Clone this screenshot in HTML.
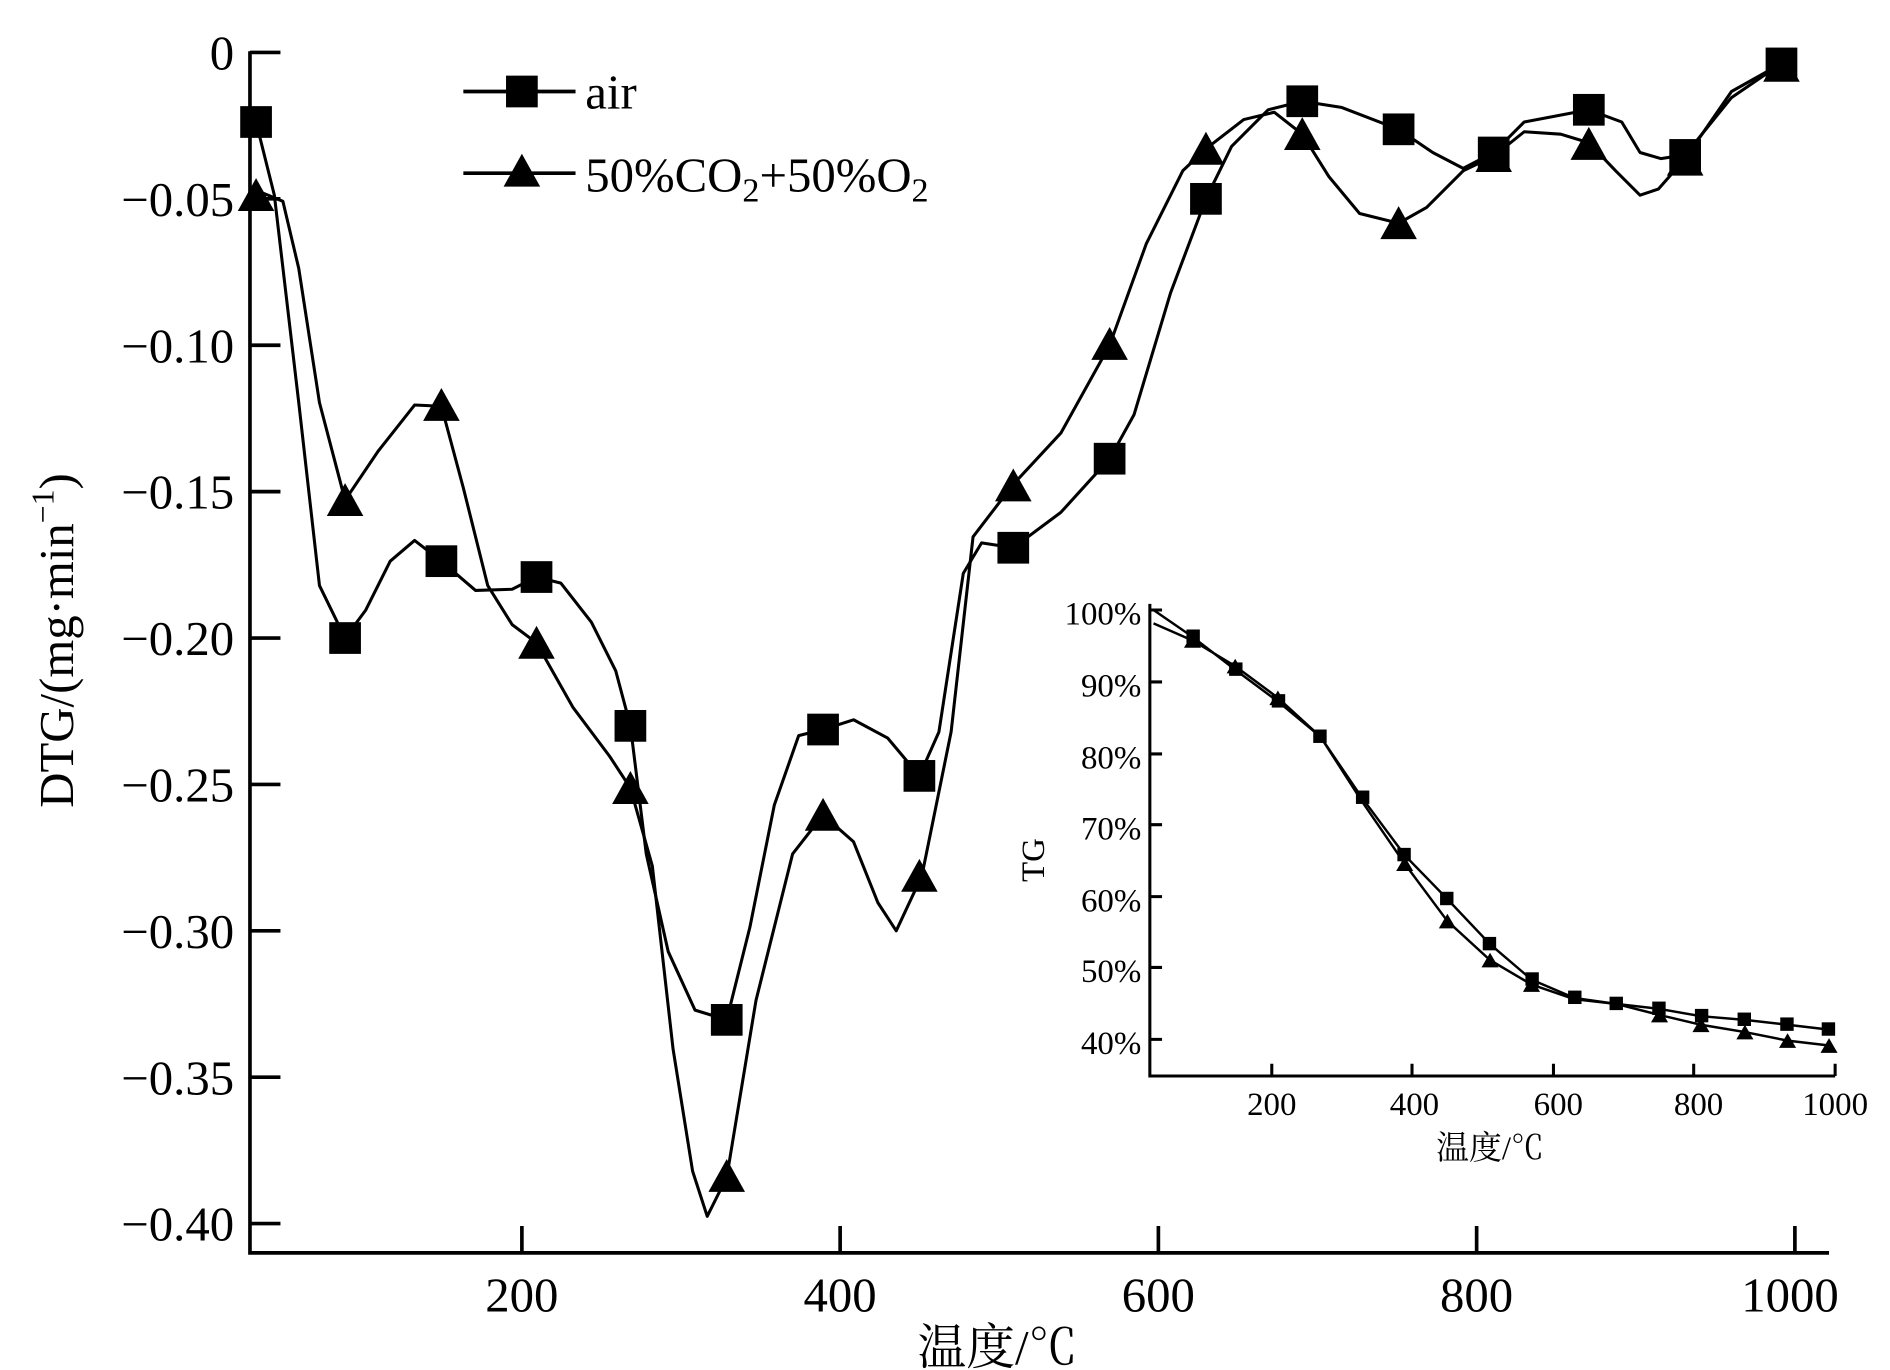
<!DOCTYPE html>
<html><head><meta charset="utf-8"><style>
html,body{margin:0;padding:0;background:#fff;}
svg{display:block;}
text{font-family:"Liberation Serif","Noto Serif CJK SC",serif;fill:#000;}
</style></head><body>
<svg width="1890" height="1370" viewBox="0 0 1550 1123" preserveAspectRatio="none" xmlns="http://www.w3.org/2000/svg">
<rect width="1550" height="1123" fill="#fff"/>
<g stroke="#000" stroke-width="3" fill="none">
<path d="M205 42 V1027 H1500"/>
<path d="M205 43h25M205 163h25M205 283h25M205 403h25M205 523h25M205 643h25M205 763h25M205 883h25M205 1003h25"/>
<path d="M428 1027v-22M689 1027v-22M950 1027v-22M1211 1027v-22M1472 1027v-22"/>
</g>
<g font-size="40" text-anchor="end">
<text x="192" y="57">0</text><text x="192" y="177">−0.05</text><text x="192" y="297">−0.10</text>
<text x="192" y="417">−0.15</text><text x="192" y="537">−0.20</text><text x="192" y="657">−0.25</text>
<text x="192" y="777">−0.30</text><text x="192" y="897">−0.35</text><text x="192" y="1017">−0.40</text>
</g>
<g font-size="40" text-anchor="middle">
<text x="428" y="1075">200</text><text x="689" y="1075">400</text><text x="950" y="1075">600</text><text x="1211" y="1075">800</text><text x="1468" y="1075">1000</text>
<text x="818" y="1118">温度/℃</text>
</g>
<text transform="translate(60 525) rotate(-90)" font-size="40" text-anchor="middle">DTG/(mg·min<tspan font-size="26" dy="-16">−1</tspan><tspan dy="16">)</tspan></text>
<!-- legend -->
<g stroke="#000" stroke-width="3"><line x1="380" y1="75" x2="472" y2="75"/><line x1="380" y1="142" x2="472" y2="142"/></g>
<rect x="415" y="62" width="26" height="26" fill="#000"/>
<polygon points="428,126 443,153 413,153" fill="#000"/>
<text x="480" y="89" font-size="40">air</text>
<text x="480" y="157" font-size="40">50%CO<tspan font-size="28" dy="8">2</tspan><tspan dy="-8">+50%O</tspan><tspan font-size="28" dy="8">2</tspan></text>
<!-- air curve -->
<polyline fill="none" stroke="#000" stroke-width="2.5" stroke-linejoin="round" points="205,95 210,100 225,160 245,330 262,480 283,523 300,500 320,460 340,443 362,460 390,484 420,483 440,473 460,478 485,510 505,550 517,595 530,700 548,780 570,828 596,836 615,760 635,660 655,603 675,598 700,590 728,605 754,636 770,600 790,470 805,445 831,449 870,420 910,376 930,340 960,240 989,163 1010,120 1040,90 1068,83 1100,88 1147,106 1175,125 1200,138 1225,125 1250,100 1303,90 1330,100 1345,125 1362,130 1382,127 1420,80 1461,52"/>
<!-- triangle curve -->
<polyline fill="none" stroke="#000" stroke-width="2.5" stroke-linejoin="round" points="205,160 215,158 232,165 245,220 262,330 283,410 310,370 340,332 362,333 380,400 400,480 420,512 440,527 470,580 500,620 517,646 535,710 552,860 568,960 580,997 596,965 620,820 650,700 675,668 700,690 720,740 735,763 756,718 780,600 798,440 831,397 870,355 910,283 940,200 970,140 989,122 1020,98 1045,92 1068,110 1090,145 1115,175 1147,183 1170,170 1200,140 1225,128 1250,108 1280,110 1303,117 1325,140 1345,160 1360,155 1382,130 1420,75 1461,52"/>
<g fill="#000">
<rect x="197" y="87" width="26" height="26"/><rect x="270" y="510" width="26" height="26"/><rect x="349" y="447" width="26" height="26"/><rect x="427" y="460" width="26" height="26"/><rect x="504" y="582" width="26" height="26"/><rect x="583" y="823" width="26" height="26"/><rect x="662" y="585" width="26" height="26"/><rect x="741" y="623" width="26" height="26"/><rect x="818" y="436" width="26" height="26"/><rect x="897" y="363" width="26" height="26"/><rect x="976" y="150" width="26" height="26"/><rect x="1055" y="70" width="26" height="26"/><rect x="1134" y="93" width="26" height="26"/><rect x="1212" y="112" width="26" height="26"/><rect x="1290" y="77" width="26" height="26"/><rect x="1369" y="114" width="26" height="26"/><rect x="1448" y="39" width="26" height="26"/>
</g>
<g fill="#000">
<polygon points="210,146 225,173 195,173"/><polygon points="283,396 298,423 268,423"/><polygon points="362,318 377,345 347,345"/><polygon points="440,513 455,540 425,540"/><polygon points="517,632 532,659 502,659"/><polygon points="596,950 611,977 581,977"/><polygon points="675,654 690,681 660,681"/><polygon points="754,704 769,731 739,731"/><polygon points="831,384 846,411 816,411"/><polygon points="910,268 925,295 895,295"/><polygon points="989,108 1004,135 974,135"/><polygon points="1068,96 1083,123 1053,123"/><polygon points="1147,169 1162,196 1132,196"/><polygon points="1225,114 1240,141 1210,141"/><polygon points="1303,104 1318,131 1288,131"/><polygon points="1382,117 1397,144 1367,144"/><polygon points="1461,40 1476,67 1446,67"/>
</g>
<!-- inset -->
<g stroke="#000" stroke-width="2.5" fill="none">
<path d="M943 495 V882 H1505"/>
<path d="M943 500h10M943 559h10M943 618h10M943 676h10M943 735h10M943 793h10M943 852h10"/>
<path d="M1043 882v-10M1158 882v-10M1274 882v-10M1389 882v-10M1505 882v-10"/>
</g>
<g font-size="27" text-anchor="end">
<text x="936" y="512">100%</text><text x="936" y="571">90%</text><text x="936" y="630">80%</text><text x="936" y="688">70%</text><text x="936" y="747">60%</text><text x="936" y="805">50%</text><text x="936" y="864">40%</text>
</g>
<g font-size="27" text-anchor="middle">
<text x="1043" y="914">200</text><text x="1160" y="914">400</text><text x="1278" y="914">600</text><text x="1393" y="914">800</text><text x="1505" y="914">1000</text>
<text x="1222" y="950">温度/℃</text>
</g>
<text transform="translate(856 705) rotate(-90)" font-size="27" text-anchor="middle">TG</text>
<polyline fill="none" stroke="#000" stroke-width="2" points="946,500 978,522 1013,549 1048,575 1083,604 1117,654 1152,701 1187,737 1222,774 1256,803 1291,818 1326,823 1361,827 1395,833 1431,836 1466,840 1500,844"/>
<polyline fill="none" stroke="#000" stroke-width="2" points="946,511 978,525 1013,546 1048,572 1083,604 1117,657 1152,708 1187,755 1222,787 1256,807 1291,819 1326,823 1361,832 1395,840 1431,846 1466,853 1500,857"/>
<g fill="#000">
<rect x="973" y="516" width="11" height="11"/><rect x="1008" y="543" width="11" height="11"/><rect x="1043" y="569" width="11" height="11"/><rect x="1077" y="598" width="11" height="11"/><rect x="1112" y="648" width="11" height="11"/><rect x="1146" y="695" width="11" height="11"/><rect x="1181" y="731" width="11" height="11"/><rect x="1216" y="768" width="11" height="11"/><rect x="1251" y="797" width="11" height="11"/><rect x="1286" y="812" width="11" height="11"/><rect x="1320" y="817" width="11" height="11"/><rect x="1355" y="821" width="11" height="11"/><rect x="1390" y="827" width="11" height="11"/><rect x="1425" y="830" width="11" height="11"/><rect x="1460" y="834" width="11" height="11"/><rect x="1494" y="838" width="11" height="11"/>
</g>
<g fill="#000">
<polygon points="978,519 985,531 971,531"/><polygon points="1013,540 1020,552 1006,552"/><polygon points="1048,566 1055,578 1041,578"/><polygon points="1152,702 1159,714 1145,714"/><polygon points="1187,749 1194,761 1180,761"/><polygon points="1222,781 1229,793 1215,793"/><polygon points="1256,801 1263,813 1249,813"/><polygon points="1361,826 1368,838 1354,838"/><polygon points="1395,834 1402,846 1388,846"/><polygon points="1431,840 1438,852 1424,852"/><polygon points="1466,847 1473,859 1459,859"/><polygon points="1500,851 1507,863 1493,863"/>
</g>
</svg>
</body></html>
